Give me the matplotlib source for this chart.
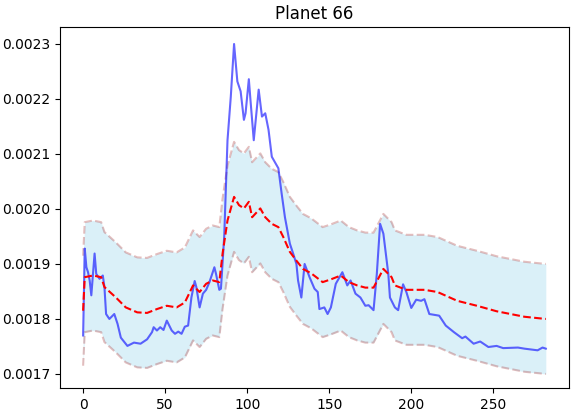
import matplotlib
matplotlib.use("Agg")
import matplotlib.pyplot as plt
import numpy as np

title = "Planet 66"

# mean (red dashed) sampled positions / values (x1e-3)
mean_x = [0, 1, 6, 11, 13, 20, 26, 33, 39, 45, 51, 57, 62, 67, 71, 75, 79, 83, 85, 88,
          92, 95, 98, 101, 103, 108, 111, 115, 119, 122, 126, 130, 134, 139, 146, 151,
          157, 162, 167, 172, 177, 183, 188, 190, 197, 208, 216, 228, 240, 252, 269, 282]
mean_v = [1.815, 1.876, 1.879, 1.876, 1.858, 1.839, 1.821, 1.812, 1.811, 1.818, 1.824,
          1.821, 1.830, 1.861, 1.849, 1.864, 1.870, 1.867, 1.919, 1.979, 2.022, 2.007,
          2.001, 2.013, 1.985, 2.001, 1.985, 1.973, 1.967, 1.949, 1.922, 1.906, 1.891,
          1.883, 1.867, 1.872, 1.879, 1.867, 1.861, 1.857, 1.857, 1.891, 1.876, 1.861,
          1.853, 1.853, 1.849, 1.833, 1.824, 1.814, 1.804, 1.800]

sigma = 0.100  # band half-width (x1e-3)

# observed (blue) sampled positions / values (x1e-3)
obs_x = [0, 1, 2, 3, 4, 5, 7, 8, 10, 12, 13, 14, 16, 19, 21, 23, 27, 31, 35, 39, 42, 43,
         45, 47, 49, 51, 54, 56, 58, 60, 62, 64, 66, 68, 69, 71, 73, 75, 77, 78, 80, 81,
         83, 84, 86, 88, 90, 92, 94, 96, 98, 99, 101, 102, 104, 107, 109, 111, 113, 115,
         119, 121, 123, 126, 128, 130, 131, 133, 135, 138, 141, 143, 144, 147, 149, 151,
         154, 158, 161, 163, 166, 169, 172, 174, 177, 179, 181, 183, 186, 187, 190, 192,
         195, 197, 200, 203, 206, 208, 211, 217, 221, 226, 231, 233, 238, 242, 247, 252,
         256, 265, 269, 277, 280, 282]
obs_v = [1.770, 1.928, 1.894, 1.885, 1.870, 1.843, 1.919, 1.882, 1.873, 1.879, 1.858,
         1.809, 1.800, 1.809, 1.791, 1.766, 1.751, 1.757, 1.755, 1.763, 1.776, 1.785,
         1.779, 1.785, 1.780, 1.797, 1.779, 1.773, 1.777, 1.773, 1.786, 1.788, 1.839,
         1.869, 1.858, 1.821, 1.846, 1.853, 1.867, 1.876, 1.894, 1.882, 1.853, 1.855,
         1.950, 2.125, 2.204, 2.300, 2.232, 2.214, 2.162, 2.174, 2.236, 2.198, 2.125,
         2.217, 2.168, 2.174, 2.144, 2.095, 2.074, 2.028, 1.985, 1.937, 1.919, 1.900,
         1.870, 1.839, 1.900, 1.876, 1.855, 1.849, 1.818, 1.821, 1.809, 1.821, 1.864,
         1.885, 1.861, 1.870, 1.846, 1.839, 1.824, 1.825, 1.816, 1.882, 1.973, 1.955,
         1.882, 1.839, 1.821, 1.816, 1.863, 1.849, 1.820, 1.835, 1.833, 1.836, 1.809,
         1.806, 1.788, 1.776, 1.765, 1.768, 1.755, 1.759, 1.749, 1.751, 1.747, 1.748,
         1.746, 1.743, 1.748, 1.746]

mx = np.array(mean_x)
mv = np.array(mean_v) * 1e-3
ox = np.array(obs_x)
ov = np.array(obs_v) * 1e-3
s = sigma * 1e-3

fig = plt.figure(figsize=(5.75, 4.12), dpi=100)
ax = fig.add_axes([0.1043, 0.0583, 0.8852, 0.8755])

ax.fill_between(mx, mv - s, mv + s, color="skyblue", alpha=0.3, linewidth=0)
ax.plot(mx, mv + s, "--", color="brown", alpha=0.3, linewidth=1.5)
ax.plot(mx, mv - s, "--", color="brown", alpha=0.3, linewidth=1.5)
ax.plot(ox, ov, color="blue", alpha=0.6, linewidth=1.5)
ax.plot(mx, mv, "--", color="red", linewidth=1.5)

ax.set_xlim(-14.1, 296.1)
ax.set_ylim(0.0016745, 0.0023304)
ax.set_xticks([0, 50, 100, 150, 200, 250])
ax.set_yticks([0.0017, 0.0018, 0.0019, 0.0020, 0.0021, 0.0022, 0.0023])
ax.set_yticklabels(["0.0017", "0.0018", "0.0019", "0.0020", "0.0021", "0.0022", "0.0023"])
ax.set_title(title)

fig.savefig("out.png", dpi=100)
